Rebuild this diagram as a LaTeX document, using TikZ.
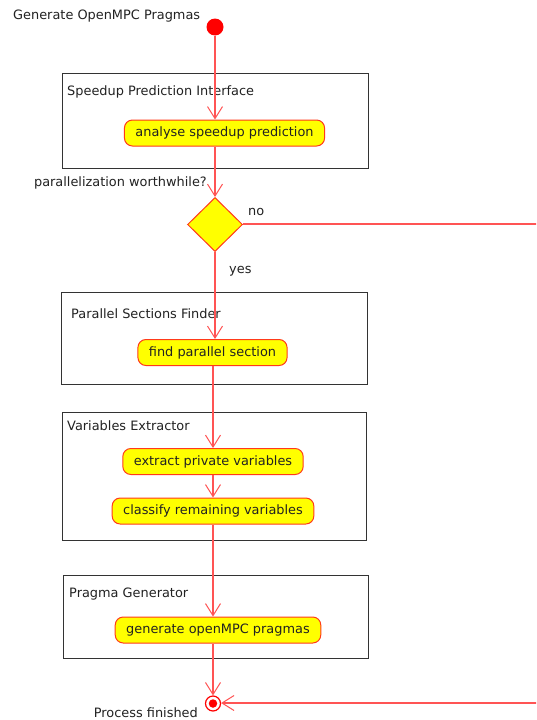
\documentclass[tikz,border=0pt]{standalone}
\usepackage{fontspec}
\setmainfont{DejaVu Sans}
\usetikzlibrary{shapes.geometric,arrows.meta}
\definecolor{flowred}{HTML}{FF5454}
\definecolor{edgered}{HTML}{FF3A1A}
\definecolor{actyellow}{HTML}{FFFF00}
\definecolor{inktext}{HTML}{222222}
\tikzset{
  every node/.style={font=\fontsize{12.9}{15}\selectfont, text=inktext},
  flow/.style={draw=flowred, line width=1.15pt, -{Straight Barb[length=12pt,width=15pt,line width=1pt]}},
  plainflow/.style={draw=flowred, line width=1.15pt},
  action/.style={rectangle, rounded corners=8pt, draw=edgered, fill=actyellow,
    line width=1pt, minimum height=26pt, inner xsep=11pt, inner ysep=0pt, text=inktext},
  frame/.style={rectangle, draw=black!80, line width=0.9pt, inner sep=0pt},
  decision/.style={diamond, draw=edgered, fill=actyellow, line width=1pt,
    minimum width=55pt, minimum height=54pt, inner sep=0pt},
  caption/.style={inner sep=0pt},
}
\begin{document}
\begin{tikzpicture}[x=1pt, y=-1pt]
\useasboundingbox (0,0) rectangle (536,720);
\clip (0,0) rectangle (536,720);
\fill[white] (0,0) rectangle (536,720);

% title and start
\node[caption, anchor=west] (title) at (13,16) {Generate OpenMPC Pragmas};
\node[circle, fill=red, minimum size=17pt, inner sep=0pt] (start) at (215,27) {};

% component frames
\node[frame, minimum width=306pt, minimum height=95pt] (f1) at (215,120.5) {};
\node[frame, minimum width=306pt, minimum height=92pt] (f2) at (214,338) {};
\node[frame, minimum width=304pt, minimum height=128pt] (f3) at (214.7,476) {};
\node[frame, minimum width=305pt, minimum height=83pt] (f4) at (215.7,616.5) {};

\node[caption, anchor=west] (l1) at (67,92) {Speedup Prediction Interface};
\node[caption, anchor=west] (l2) at (71,314) {Parallel Sections Finder};
\node[caption, anchor=west] (l3) at (67,426) {Variables Extractor};
\node[caption, anchor=west] (l4) at (69,594) {Pragma Generator};

% actions
\node[action] (a1) at (224.5,133) {analyse speedup prediction};
\node[action] (a2) at (212.5,352.5) {find parallel section};
\node[action] (a3) at (213,461.5) {extract private variables};
\node[action] (a4) at (213,511) {classify remaining variables};
\node[action] (a5) at (218,630) {generate openMPC pragmas};

% decision
\node[decision] (dec) at (215,224.5) {};
\node[caption, anchor=east] (q) at (207,183) {parallelization worthwhile?};
\node[caption, anchor=west] (no) at (248,212) {no};
\node[caption, anchor=west] (yes) at (229,271) {yes};

% end
\node[circle, draw=red, fill=white, line width=1.2pt, minimum size=15pt, inner sep=0pt] (end) at (213,703.5) {};
\node[circle, fill=red, minimum size=8.5pt, inner sep=0pt] (endcore) at (end.center) {};
\node[caption, anchor=east] (fin) at (198,713) {Process finished};

\coordinate (rtop) at (545,224);
\coordinate (rbot) at (545,703);

% flow
\draw[flow] (start) -- (start |- a1.north);
\draw[flow] (start |- a1.south) -- (dec.north);
\draw[flow] (dec.south) -- (dec |- a2.north);
\draw[flow] (a2.south -| a3) -- (a3.north);
\draw[flow] (a3.south) -- (a4.north);
\draw[flow] (a4.south) -- (a4 |- a5.north);
\draw[flow] (a4 |- a5.south) -- (end.north);
\draw[plainflow] (dec.east |- rtop) -- (rtop) -- (rbot);
\draw[flow] (rbot) -- (end.east |- rbot);
\end{tikzpicture}
\end{document}
